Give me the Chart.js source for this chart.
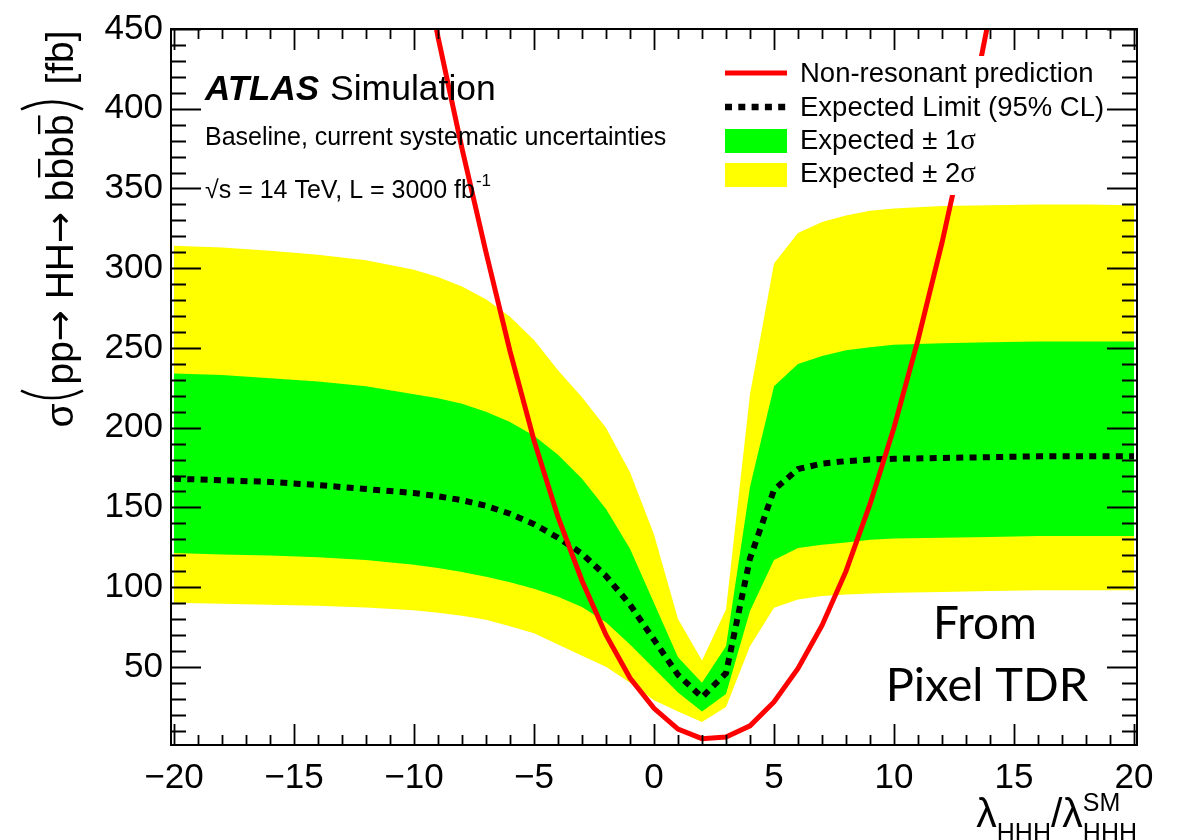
<!DOCTYPE html>
<html>
<head>
<meta charset="UTF-8">
<title>HH to bbbb expected limit vs lambda_HHH</title>
<script src="https://cdn.jsdelivr.net/npm/chart.js"></script>
<style>
  body { margin: 0; background: #fff; }
  #wrap { width: 1181px; height: 840px; }
</style>
</head>
<body>
<div id="wrap"><canvas id="limitChart" width="1181" height="840"></canvas></div>
<script>
// Scan points in lambda_HHH / lambda_HHH^SM for the expected limit and its bands
const lambdaPts = [-20, -18, -16, -14, -12, -10, -9, -8, -7, -6, -5, -4, -3, -2, -1, 0, 1, 2, 3, 4, 5, 6, 7, 8, 9, 10, 12, 14, 16, 18, 20];
// Expected 95% CL limit [fb]
const expLimit = [168, 167, 166, 164, 161.5, 159, 157, 154.5, 151, 146, 139.5, 131, 121, 107, 89, 67, 45, 31, 46, 118, 161, 174, 177.5, 179, 180, 180.5, 181, 181.5, 182, 182, 182];
// +/- 1 sigma band edges
const band1Hi = [234, 233, 231, 229, 226, 221, 218.5, 215, 210, 203.5, 195, 183, 168, 149, 124, 90, 56, 40, 63, 163, 226, 240, 245, 248.5, 250.5, 252, 253, 253.5, 254, 254, 254];
const band1Lo = [121.4, 120.5, 119.8, 118.8, 117, 114, 112, 109.5, 106.5, 103, 99, 94, 87.5, 78, 64, 49, 34, 22, 33, 85, 117, 124.5, 126.6, 128, 129.7, 130.5, 131, 131.5, 132, 132, 132];
// +/- 2 sigma band edges
const band2Hi = [314, 313, 311, 308.5, 305, 299, 294.5, 288.5, 280.5, 269.5, 255, 236, 219, 200, 172, 133, 80, 54, 86, 221, 303, 322, 329, 333, 336, 337.5, 339, 339.5, 340, 340, 339.5];
const band2Lo = [90.2, 89.5, 89, 88.4, 87.3, 85.5, 84, 82, 79.5, 75.5, 71, 64, 57, 50, 40, 29, 22, 15.5, 24.8, 63, 87, 92.3, 94.4, 95.4, 96, 96.5, 97, 97.5, 98, 98, 98];

// Non-resonant HH prediction [fb]
const predLambda = [-10, -9, -8, -7, -6, -5, -4, -3, -2, -1, 0, 1, 2, 3, 4, 5, 6, 7, 8, 9, 10, 11, 12, 13, 14];
const predXsec = [525, 445, 375, 310, 248, 192, 144, 104, 70, 43, 24, 11, 5, 6, 13, 28, 49, 76, 110, 152, 200, 255, 316, 384, 460];

// Axis labels
const xTickVals = [-20, -15, -10, -5, 0, 5, 10, 15, 20];
const yTickVals = [50, 100, 150, 200, 250, 300, 350, 400, 450];

const SANS = '"Liberation Sans", Arial, Helvetica, sans-serif';
const SERIF = '"Liberation Serif", "Times New Roman", serif';
const ARROW = '"DejaVu Sans", sans-serif';

function pts(xs, ys) {
  return xs.map((x, i) => ({ x: x, y: ys[i] }));
}

// Draw a tall thin bracket along the rotated y title
function bracket(ctx, u, open) {
  const dir = open ? 1 : -1;
  ctx.beginPath();
  ctx.moveTo(u + 10 * dir, -52);
  ctx.quadraticCurveTo(u - 5 * dir, -21, u + 10 * dir, 10);
  ctx.lineWidth = 2.6;
  ctx.strokeStyle = '#000';
  ctx.stroke();
}

function drawYTitle(ctx) {
  ctx.save();
  ctx.translate(73, 0);
  ctx.rotate(-Math.PI / 2);
  ctx.fillStyle = '#000';
  ctx.textBaseline = 'alphabetic';
  ctx.textAlign = 'left';
  const txt = '39px ' + SANS;
  const arr = '37px ' + ARROW;
  // [text, font, overline]
  const parts = [
    ['\u03c3', txt], ['('], ['pp', txt], ['\u2192', arr], [' HH', txt], ['\u2192', arr], [' b', txt],
    ['b', txt, true], ['b', txt], ['b', txt, true], [')'], [' [fb]', txt]
  ];
  const gap = 19;
  let total = 0;
  parts.forEach(p => {
    if (!p[1]) { total += gap; return; }
    ctx.font = p[1];
    total += ctx.measureText(p[0]).width;
  });
  let u = -229 - total / 2;
  parts.forEach(p => {
    if (!p[1]) {
      bracket(ctx, u + (p[0] === '(' ? 3 : gap - 4), p[0] === '(');
      u += gap;
      return;
    }
    ctx.font = p[1];
    const w = ctx.measureText(p[0]).width;
    ctx.fillText(p[0], u, p[1] === arr ? -1 : 0);
    if (p[2]) ctx.fillRect(u + 2, -35, w - 3, 2.3);
    u += w;
  });
  ctx.restore();
}

function drawXTitle(ctx, right) {
  ctx.save();
  ctx.fillStyle = '#000';
  ctx.textBaseline = 'alphabetic';
  ctx.textAlign = 'left';
  const big = '41px ' + SANS;
  const small = '25px ' + SANS;
  ctx.font = big; const wl = ctx.measureText('\u03bb').width; const ws = ctx.measureText('/').width;
  ctx.font = small; const wh = ctx.measureText('HHH').width;
  let x = right - (wl + wh + ws + wl + wh);
  ctx.font = big; ctx.fillText('\u03bb', x, 827); x += wl;
  ctx.font = small; ctx.fillText('HHH', x, 841); x += wh;
  ctx.font = big; ctx.fillText('/', x, 827); x += ws;
  ctx.fillText('\u03bb', x, 827); x += wl;
  ctx.font = small; ctx.fillText('SM', x, 811); ctx.fillText('HHH', x, 841);
  ctx.restore();
}

function drawLegend(ctx) {
  ctx.save();
  ctx.fillStyle = '#fff';
  ctx.fillRect(715, 56, 392, 139);
  const x0 = 725, x1 = 787, tx = 800;
  // red line
  ctx.strokeStyle = '#ff0000'; ctx.lineWidth = 5;
  ctx.beginPath(); ctx.moveTo(x0, 73); ctx.lineTo(x1, 73); ctx.stroke();
  // dotted limit
  ctx.strokeStyle = '#000'; ctx.lineWidth = 6.5; ctx.setLineDash([7, 6.3]);
  ctx.beginPath(); ctx.moveTo(x0, 107); ctx.lineTo(x1, 107); ctx.stroke();
  ctx.setLineDash([]);
  ctx.fillStyle = '#00ff00'; ctx.fillRect(x0, 129, x1 - x0, 24);
  ctx.fillStyle = '#ffff00'; ctx.fillRect(x0, 163, x1 - x0, 24);

  ctx.fillStyle = '#000';
  ctx.textBaseline = 'alphabetic';
  ctx.font = '27.5px ' + SANS;
  ctx.fillText('Non-resonant prediction', tx, 82);
  ctx.fillText('Expected Limit (95% CL)', tx, 116);
  const rows = [['Expected \u00b1 1', 149], ['Expected \u00b1 2', 182]];
  rows.forEach(r => {
    ctx.font = '27.5px ' + SANS;
    ctx.fillText(r[0], tx, r[1]);
    const w = ctx.measureText(r[0]).width;
    ctx.font = '29px ' + SERIF;
    ctx.fillText('\u03c3', tx + w, r[1]);
  });
  ctx.restore();
}

function drawLabels(ctx) {
  ctx.save();
  ctx.fillStyle = '#000';
  ctx.textBaseline = 'alphabetic';
  ctx.textAlign = 'left';
  ctx.font = 'italic bold 35px ' + SANS;
  ctx.fillText('ATLAS', 205, 100);
  const wa = ctx.measureText('ATLAS').width;
  ctx.font = '35.5px ' + SANS;
  ctx.fillText('Simulation', 205 + wa + 11, 100);

  ctx.font = '25px ' + SANS;
  ctx.fillText('Baseline, current systematic uncertainties', 205, 145);
  const lumi = '\u221as = 14 TeV, L = 3000 fb';
  ctx.fillText(lumi, 205, 198);
  const wl = ctx.measureText(lumi).width;
  ctx.font = '17px ' + SANS;
  ctx.fillText('-1', 205 + wl + 1, 186);

  ctx.font = '46px Lato, "Open Sans", sans-serif';
  ctx.textAlign = 'center';
  ctx.fillText('From', 985, 639);
  ctx.font = '47px Lato, "Open Sans", sans-serif';
  ctx.fillText('Pixel TDR', 987, 701);
  ctx.restore();
}

// Frame with inward ticks on all four sides
function drawFrame(chart) {
  const ctx = chart.ctx;
  const { left, right, top, bottom } = chart.chartArea;
  const xs = chart.scales.x, ys = chart.scales.y;
  ctx.save();
  ctx.strokeStyle = '#000';
  ctx.lineWidth = 2;
  ctx.strokeRect(left, top, right - left, bottom - top);
  ctx.lineWidth = 1.8;
  ctx.beginPath();
  for (let v = -20; v <= 20; v++) {
    const px = Math.round(xs.getPixelForValue(v)) + 0.5;
    const len = v % 5 === 0 ? 21 : 10;
    ctx.moveTo(px, bottom); ctx.lineTo(px, bottom - len);
    ctx.moveTo(px, top); ctx.lineTo(px, top + len);
  }
  for (let v = 10; v <= 450; v += 10) {
    const py = Math.round(ys.getPixelForValue(v)) + 0.5;
    const len = v % 50 === 0 ? 30 : 15;
    ctx.moveTo(left, py); ctx.lineTo(left + len, py);
    ctx.moveTo(right, py); ctx.lineTo(right - len, py);
  }
  ctx.stroke();
  ctx.restore();
}

const decor = {
  id: 'decor',
  afterDatasetsDraw(chart) {
    drawLegend(chart.ctx);
    drawLabels(chart.ctx);
  },
  afterDraw(chart) {
    drawFrame(chart);
    drawYTitle(chart.ctx);
    drawXTitle(chart.ctx, chart.chartArea.right);
  }
};

const noEdge = 'rgba(0,0,0,0)';

new Chart(document.getElementById('limitChart'), {
  type: 'line',
  data: {
    datasets: [
      { label: 'Expected \u00b1 2\u03c3', data: pts(lambdaPts, band2Hi), borderColor: noEdge, borderWidth: 0,
        pointRadius: 0, fill: '+1', backgroundColor: '#ffff00', order: 4 },
      { label: 'band2Lo', data: pts(lambdaPts, band2Lo), borderColor: noEdge, borderWidth: 0,
        pointRadius: 0, fill: false, order: 4 },
      { label: 'Expected \u00b1 1\u03c3', data: pts(lambdaPts, band1Hi), borderColor: noEdge, borderWidth: 0,
        pointRadius: 0, fill: '+1', backgroundColor: '#00ff00', order: 3 },
      { label: 'band1Lo', data: pts(lambdaPts, band1Lo), borderColor: noEdge, borderWidth: 0,
        pointRadius: 0, fill: false, order: 3 },
      { label: 'Expected Limit (95% CL)', data: pts(lambdaPts, expLimit), borderColor: '#000', borderWidth: 6,
        borderDash: [7, 6.3], borderCapStyle: 'butt', pointRadius: 0, fill: false, order: 2 },
      { label: 'Non-resonant prediction', data: pts(predLambda, predXsec), borderColor: '#ff0000', borderWidth: 5,
        pointRadius: 0, fill: false, order: 1, clip: 0 }
    ]
  },
  options: {
    responsive: false,
    devicePixelRatio: 1,
    animation: false,
    events: [],
    layout: { padding: { left: 0, top: 24, right: 44, bottom: 0 } },
    elements: { line: { tension: 0 } },
    plugins: { legend: { display: false }, tooltip: { enabled: false } },
    scales: {
      x: {
        type: 'linear', min: -20.125, max: 20.125,
        grid: { display: false, drawTicks: false }, border: { display: false },
        afterBuildTicks: s => { s.ticks = xTickVals.map(v => ({ value: v })); },
        afterFit: s => { s.height = 95; },
        ticks: {
          color: '#000', font: { family: SANS, size: 35 }, padding: 12, maxRotation: 0, autoSkip: false,
          callback: v => v < 0 ? '\u2212' + Math.abs(v) : String(v)
        }
      },
      y: {
        type: 'linear', min: 1, max: 450,
        grid: { display: false, drawTicks: false }, border: { display: false },
        afterBuildTicks: s => { s.ticks = yTickVals.map(v => ({ value: v })); },
        afterFit: s => { s.width = 171; },
        ticks: { color: '#000', font: { family: SANS, size: 35 }, padding: 8, autoSkip: false }
      }
    }
  },
  plugins: [decor]
});
</script>
</body>
</html>
